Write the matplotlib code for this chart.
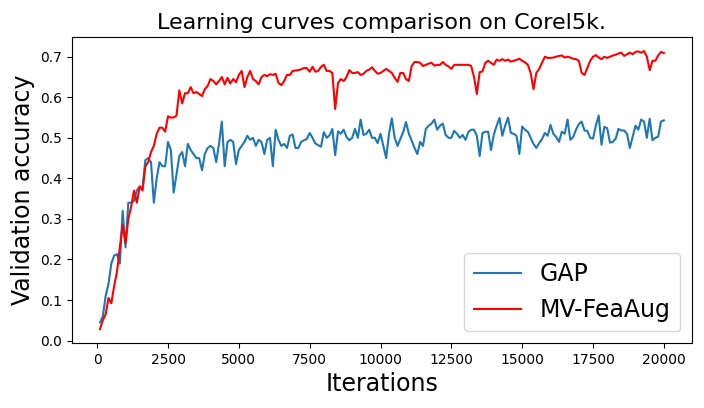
import matplotlib
matplotlib.use("Agg")
import matplotlib.pyplot as plt

iterations = list(range(100, 20001, 100))

gap_acc = [
    0.045, 0.06, 0.11, 0.14, 0.19, 0.21, 0.213, 0.19, 0.32, 0.23,
    0.34, 0.34, 0.345, 0.37, 0.38, 0.375, 0.445, 0.45, 0.44, 0.34,
    0.40, 0.44, 0.43, 0.43, 0.49, 0.47, 0.365, 0.41, 0.455, 0.465,
    0.43, 0.485, 0.47, 0.46, 0.45, 0.45, 0.42, 0.46, 0.475, 0.48,
    0.475, 0.44, 0.485, 0.54, 0.43, 0.49, 0.495, 0.49, 0.435, 0.47,
    0.48, 0.49, 0.505, 0.495, 0.5, 0.48, 0.495, 0.49, 0.46, 0.495,
    0.5, 0.43, 0.52, 0.495, 0.48, 0.485, 0.475, 0.505, 0.508, 0.475,
    0.475, 0.49, 0.494, 0.497, 0.512, 0.5, 0.486, 0.482, 0.478, 0.514,
    0.5, 0.506, 0.522, 0.457, 0.516, 0.51, 0.52, 0.502, 0.494, 0.5,
    0.522, 0.5, 0.545, 0.507, 0.51, 0.52, 0.5, 0.5, 0.487, 0.51,
    0.48, 0.45, 0.51, 0.548, 0.5, 0.48, 0.497, 0.514, 0.539, 0.51,
    0.493, 0.475, 0.46, 0.49, 0.48, 0.522, 0.53, 0.535, 0.545, 0.52,
    0.53, 0.535, 0.507, 0.5, 0.5, 0.517, 0.51, 0.5, 0.507, 0.495,
    0.514, 0.52, 0.52, 0.505, 0.455, 0.512, 0.515, 0.515, 0.47, 0.508,
    0.53, 0.549, 0.505, 0.53, 0.55, 0.512, 0.51, 0.505, 0.46, 0.528,
    0.52, 0.515, 0.5, 0.485, 0.475, 0.487, 0.497, 0.512, 0.505, 0.532,
    0.51, 0.502, 0.49, 0.515, 0.51, 0.545, 0.495, 0.502, 0.52, 0.534,
    0.54, 0.518, 0.517, 0.5, 0.498, 0.53, 0.555, 0.483, 0.527, 0.524,
    0.488, 0.49, 0.498, 0.522, 0.518, 0.518, 0.51, 0.475, 0.502, 0.53,
    0.52, 0.545, 0.54, 0.5, 0.547, 0.494, 0.5, 0.503, 0.54, 0.543,
]

mvfeaaug_acc = [
    0.028, 0.050, 0.065, 0.105, 0.092, 0.135, 0.17, 0.23, 0.285, 0.24,
    0.30, 0.33, 0.37, 0.34, 0.38, 0.37, 0.43, 0.44, 0.465, 0.48,
    0.51, 0.525, 0.525, 0.515, 0.553, 0.55, 0.55, 0.555, 0.617, 0.585,
    0.61, 0.61, 0.625, 0.61, 0.613, 0.608, 0.603, 0.62, 0.628, 0.645,
    0.64, 0.632, 0.64, 0.65, 0.632, 0.648, 0.634, 0.645, 0.637, 0.655,
    0.665, 0.625, 0.65, 0.665, 0.645, 0.64, 0.632, 0.65, 0.655, 0.652,
    0.657, 0.655, 0.658, 0.635, 0.63, 0.64, 0.655, 0.655, 0.665, 0.666,
    0.667, 0.669, 0.672, 0.672, 0.663, 0.675, 0.663, 0.665, 0.675, 0.68,
    0.665, 0.665, 0.66, 0.571, 0.635, 0.645, 0.64, 0.65, 0.667, 0.66,
    0.66, 0.662, 0.655, 0.658, 0.665, 0.668, 0.674, 0.665, 0.658, 0.66,
    0.665, 0.67, 0.665, 0.66, 0.648, 0.638, 0.66, 0.66, 0.645, 0.64,
    0.677, 0.687, 0.687, 0.685, 0.677, 0.68, 0.683, 0.685, 0.678, 0.68,
    0.68, 0.687, 0.68, 0.676, 0.67, 0.68, 0.68, 0.68, 0.68, 0.68,
    0.68, 0.677, 0.65, 0.608, 0.662, 0.664, 0.685, 0.69, 0.685, 0.68,
    0.693, 0.69, 0.694, 0.69, 0.693, 0.688, 0.69, 0.692, 0.695, 0.69,
    0.686, 0.68, 0.66, 0.62, 0.66, 0.67, 0.685, 0.7, 0.697, 0.697,
    0.698, 0.7, 0.702, 0.703, 0.698, 0.7, 0.698, 0.695, 0.694, 0.69,
    0.66, 0.655, 0.672, 0.69, 0.7, 0.704, 0.698, 0.694, 0.7, 0.697,
    0.7, 0.703, 0.705, 0.708, 0.71, 0.702, 0.706, 0.71, 0.706, 0.712,
    0.713, 0.71, 0.714, 0.7, 0.667, 0.69, 0.69, 0.703, 0.712, 0.709,
]

fig, ax = plt.subplots(figsize=(7.04, 4.08), dpi=100)
fig.subplots_adjust(left=0.102, right=0.983, bottom=0.159, top=0.909)

ax.plot(iterations, gap_acc, color="#1f77b4", label="GAP")
ax.plot(iterations, mvfeaaug_acc, color="red", label="MV-FeaAug")

ax.set_title("Learning curves comparison on Corel5k.", fontsize=16)
ax.set_xlabel("Iterations", fontsize=17)
ax.set_ylabel("Validation accuracy", fontsize=17)
ax.legend(loc="lower right", fontsize=17)

fig.savefig("out.png", dpi=100)
